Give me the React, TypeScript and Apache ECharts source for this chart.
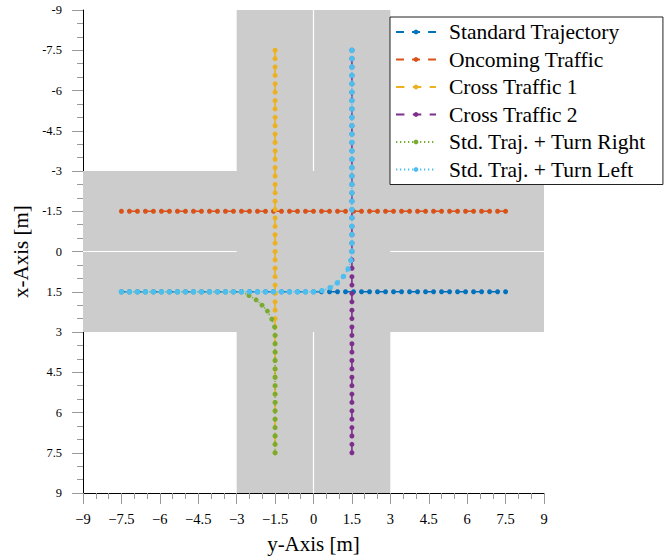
import React, { useEffect, useRef } from "react";
import * as echarts from "echarts";

// Sample positions along each straight lane [m]
const track = [
  -7.5, -7.1875, -6.875, -6.5625, -6.25, -5.9375, -5.625, -5.3125, -5, -4.6875,
  -4.375, -4.0625, -3.75, -3.4375, -3.125, -2.8125, -2.5, -2.1875, -1.875, -1.5625,
  -1.25, -0.9375, -0.625, -0.3125, 0, 0.3125, 0.625, 0.9375, 1.25, 1.5625, 1.875,
  2.1875, 2.5, 2.8125, 3.125, 3.4375, 3.75, 4.0625, 4.375, 4.6875, 5, 5.3125, 5.625,
  5.9375, 6.25, 6.5625, 6.875, 7.1875, 7.5,
];
const egoLane = 1.5;
const oncomingLane = -1.5;
const cross1Lane = -1.5;
const cross2Lane = 1.5;
// curve points [y-Axis, x-Axis]
const turnRightArc = [
  [-2.52, 1.64], [-2.24, 1.8], [-2.01, 2.0], [-1.8, 2.22], [-1.63, 2.52], [-1.52, 2.81],
];
const turnLeftArc = [
  [0.33, 1.46], [0.65, 1.35], [0.93, 1.17], [1.17, 0.93], [1.35, 0.65], [1.46, 0.33],
];
const seriesNames = [
  "Standard Trajectory",
  "Oncoming Traffic",
  "Cross Traffic 1",
  "Cross Traffic 2",
  "Std. Traj. + Turn Right",
  "Std. Traj. + Turn Left",
];
const colors = ["#0072BD", "#D95319", "#EDB120", "#7E2F8E", "#77AC30", "#4DBEEE"];
// road areas: [y0, x0, y1, x1]
const roadAreas = [
  [-3, -9, 3, 9],
  [-9, -3, 9, 3],
];
// lane markings: [y0, x0, y1, x1]
const laneMarks = [
  [0, -9, 0, -3],
  [0, 3, 0, 9],
  [-9, 0, -3, 0],
  [3, 0, 9, 0],
];

const FONT = "'Liberation Serif', 'Times New Roman', serif";

export default function App() {
  const ref = useRef<HTMLDivElement>(null);
  useEffect(() => {
    if (!ref.current) return;
    const chart = echarts.init(ref.current, null, { renderer: "svg" });

    const std = track.map((h) => [h, egoLane]);
    const oncoming = [...track].reverse().map((h) => [h, oncomingLane]);
    const cross1 = track.map((v) => [cross1Lane, v]);
    const cross2 = [...track].reverse().map((v) => [cross2Lane, v]);
    const turnRight = [
      ...track.slice(0, 16).map((h) => [h, egoLane]),
      ...turnRightArc,
      ...track.slice(34).map((v) => [cross1Lane, v]),
    ];
    const turnLeft = [
      ...track.slice(0, 25).map((h) => [h, egoLane]),
      ...turnLeftArc,
      ...track.slice(0, 25).reverse().map((v) => [cross2Lane, v]),
    ];

    const hDash = [8.02, 8.02];
    const vDash = [8.42, 8.42];
    const dot = [1.3, 2.7];

    const mk = (i: number, data: number[][], dash: number[], width: number, size: number) => ({
      name: seriesNames[i],
      type: "line",
      data,
      symbol: "circle",
      symbolSize: size,
      showSymbol: true,
      color: colors[i],
      itemStyle: { color: colors[i] },
      lineStyle: { color: colors[i], width, type: dash },
      z: 3 + i,
      silent: true,
    });

    const axisCommon = {
      type: "value",
      min: -9,
      max: 9,
      interval: 1.5,
      axisLine: { show: true, onZero: false, lineStyle: { color: "#000", width: 1 } },
      axisTick: { show: true, length: 11, lineStyle: { color: "#999", width: 1 } },
      minorTick: { show: true, splitNumber: 3, length: 6, lineStyle: { color: "#999", width: 1 } },
      splitLine: { show: false },
      minorSplitLine: { show: false },
      nameLocation: "middle",
    };

    chart.setOption({
      animation: false,
      backgroundColor: "#fff",
      textStyle: { fontFamily: FONT },
      grid: { left: 83, right: 126, top: 10, bottom: 64 },
      xAxis: {
        ...axisCommon,
        position: "bottom",
        name: "y-Axis [m]",
        nameGap: 40,
        nameTextStyle: { fontSize: 21, color: "#000", fontFamily: FONT },
        axisLabel: {
          fontSize: 14.5,
          color: "#000",
          margin: 18,
          fontFamily: FONT,
          formatter: (v: number) => (v < 0 ? "\u2212" + Math.abs(v) : String(v)),
        },
      },
      yAxis: {
        ...axisCommon,
        inverse: true,
        position: "left",
        name: "x-Axis [m]",
        nameGap: 48,
        nameRotate: 90,
        nameTextStyle: { fontSize: 21, color: "#000", fontFamily: FONT },
        axisLabel: {
          fontSize: 12.5,
          color: "#000",
          margin: 21,
          fontFamily: FONT,
          formatter: (v: number) => String(v),
        },
      },
      legend: {
        data: seriesNames,
        orient: "vertical",
        left: 390,
        top: 17,
        padding: [4, 17, 4, 5],
        itemWidth: 40,
        itemHeight: 6,
        itemGap: 5.5,
        backgroundColor: "#fff",
        borderColor: "#222",
        borderWidth: 1,
        borderRadius: 0,
        textStyle: { fontSize: 21.5, color: "#000", fontFamily: FONT, padding: [0, 0, 0, 8] },
      },
      series: [
        {
          type: "line",
          data: [],
          silent: true,
          z: 1,
          markArea: {
            silent: true,
            itemStyle: { color: "#cccccc", opacity: 1 },
            data: roadAreas.map((r) => [
              { coord: [r[0], r[1]] },
              { coord: [r[2], r[3]] },
            ]),
          },
          markLine: {
            silent: true,
            symbol: ["none", "none"],
            label: { show: false },
            lineStyle: { color: "#ffffff", width: 1.2, type: "solid" },
            data: laneMarks.map((m) => [
              { coord: [m[0], m[1]] },
              { coord: [m[2], m[3]] },
            ]),
          },
        },
        mk(0, std, hDash, 1.6, 5),
        mk(1, oncoming, hDash, 1.6, 5),
        mk(2, cross1, vDash, 1.6, 5),
        mk(3, cross2, vDash, 1.6, 5),
        mk(4, turnRight, dot, 1.3, 5),
        mk(5, turnLeft, dot, 1.3, 5.5),
      ],
    });
    return () => chart.dispose();
  }, []);
  return (
    <div
      ref={ref}
      style={{ position: "absolute", left: 0, top: 0, width: 670, height: 559 }}
    />
  );
}
